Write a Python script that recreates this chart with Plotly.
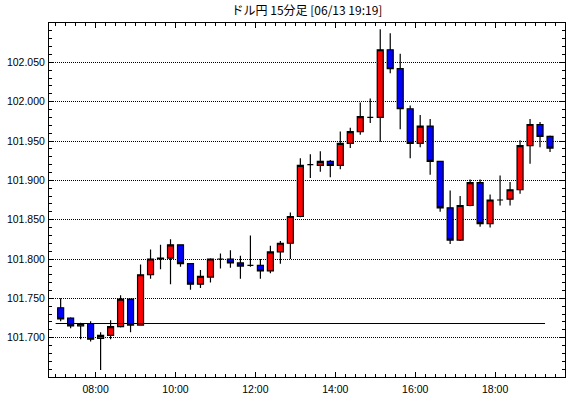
import pandas as pd
import plotly.graph_objects as go

title_text = "ドル円 15分足 [06/13 19:19]"
start_time = "2014-06-13 07:00"
bar_minutes = 15

opens = [101.738, 101.725, 101.715, 101.718, 101.699, 101.703, 101.714, 101.749, 101.716, 101.780,
         101.800, 101.801, 101.818, 101.794, 101.768, 101.777, 101.800, 101.800, 101.795, 101.792,
         101.792, 101.785, 101.809, 101.820, 101.854, 101.920, 101.919, 101.924, 101.919, 101.947,
         101.962, 101.980, 101.980, 102.066, 102.042, 101.991, 101.947, 101.969, 101.924, 101.865,
         101.824, 101.868, 101.897, 101.845, 101.875, 101.876, 101.888, 101.944, 101.971, 101.956]
highs = [101.750, 101.726, 101.719, 101.721, 101.707, 101.722, 101.754, 101.749, 101.793, 101.812,
         101.818, 101.825, 101.818, 101.794, 101.786, 101.801, 101.807, 101.811, 101.804, 101.830,
         101.800, 101.817, 101.823, 101.859, 101.928, 101.933, 101.937, 101.926, 101.962, 101.967,
         101.999, 102.004, 102.092, 102.087, 102.061, 101.995, 101.983, 101.978, 101.924, 101.887,
         101.880, 101.901, 101.901, 101.882, 101.906, 101.898, 101.951, 101.978, 101.974, 101.957]
lows = [101.721, 101.712, 101.698, 101.695, 101.659, 101.698, 101.713, 101.707, 101.716, 101.775,
        101.787, 101.768, 101.790, 101.761, 101.763, 101.770, 101.788, 101.789, 101.775, 101.790,
        101.775, 101.782, 101.794, 101.800, 101.853, 101.903, 101.911, 101.904, 101.914, 101.941,
        101.958, 101.973, 101.949, 102.036, 101.965, 101.928, 101.942, 101.907, 101.860, 101.819,
        101.823, 101.867, 101.841, 101.840, 101.868, 101.868, 101.883, 101.921, 101.942, 101.936]
closes = [101.724, 101.715, 101.718, 101.698, 101.703, 101.714, 101.749, 101.716, 101.780, 101.800,
          101.801, 101.818, 101.794, 101.768, 101.778, 101.800, 101.800, 101.795, 101.791, 101.792,
          101.785, 101.809, 101.820, 101.854, 101.919, 101.920, 101.924, 101.919, 101.947, 101.962,
          101.981, 101.980, 102.066, 102.042, 101.991, 101.947, 101.969, 101.924, 101.865, 101.824,
          101.868, 101.897, 101.845, 101.875, 101.875, 101.888, 101.944, 101.971, 101.956, 101.941]

reference_level = 101.718

y_tick_values = [101.70, 101.75, 101.80, 101.85, 101.90, 101.95, 102.00, 102.05]
y_range = [101.65, 102.10]
x_range = ["2014-06-13 06:50", "2014-06-13 19:45"]
x_tick0 = "2014-06-13 08:00"

times = pd.date_range(start_time, periods=len(opens), freq=f"{bar_minutes}min")

fig = go.Figure()
fig.add_trace(go.Candlestick(
    x=times, open=opens, high=highs, low=lows, close=closes,
    xperiod=bar_minutes * 60 * 1000, xperiodalignment="middle",
    increasing=dict(fillcolor="#ff0000", line=dict(color="black", width=1.2)),
    decreasing=dict(fillcolor="#0000ff", line=dict(color="black", width=1.2)),
    whiskerwidth=0, showlegend=False, hoverinfo="skip",
))
fig.add_trace(go.Scatter(
    x=[times[0], times[-1]], y=[reference_level, reference_level],
    mode="lines", line=dict(color="black", width=1.2), showlegend=False, hoverinfo="skip",
))

fig.update_layout(
    width=570, height=398,
    margin=dict(l=49, r=5, t=23, b=21, autoexpand=False),
    paper_bgcolor="white", plot_bgcolor="white",
    font=dict(family="Liberation Sans, Noto Sans CJK JP", size=10.5, color="black"),
    title=dict(text=title_text, x=0.5, xref="paper", y=1 - 11 / 398, yref="container",
               xanchor="center", yanchor="middle", automargin=False,
               font=dict(family="Noto Sans CJK JP", size=12, color="black")),
    boxgap=0.4, boxgroupgap=0,
    showlegend=False,
)
fig.update_xaxes(
    type="date", range=x_range, rangeslider=dict(visible=False), automargin=False,
    tickmode="linear", tick0=x_tick0, dtick=2 * 3600 * 1000, tickformat="%H:%M",
    ticks="inside", ticklen=5, tickwidth=1, tickcolor="black",
    minor=dict(dtick=bar_minutes * 60 * 1000, tick0=x_tick0, ticks="inside", ticklen=3,
               tickcolor="black", showgrid=False),
    showline=True, linecolor="black", linewidth=1, mirror="allticks",
    showgrid=False, zeroline=False, ticklabelstandoff=2,
)
fig.update_yaxes(
    range=y_range, tickmode="array", tickvals=y_tick_values, tickformat=".3f", automargin=False,
    ticks="inside", ticklen=5, tickwidth=1, tickcolor="black",
    minor=dict(dtick=0.01, tick0=101.65, ticks="inside", ticklen=3, tickcolor="black", showgrid=False),
    showline=True, linecolor="black", linewidth=1, mirror="allticks",
    showgrid=True, gridcolor="black", griddash="1px,1px", gridwidth=1,
    zeroline=False, ticklabelstandoff=1,
)

fig.write_html(
    "out.html",
    config={"displayModeBar": False, "staticPlot": True},
    post_script="document.body.style.margin='0';document.body.style.overflow='hidden';",
)
